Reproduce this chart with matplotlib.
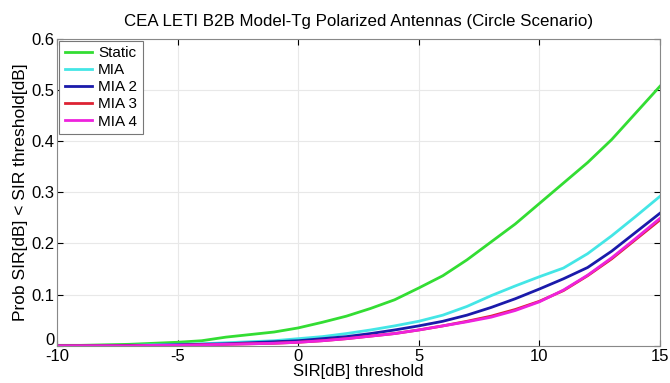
import numpy as np
import matplotlib
matplotlib.use("Agg")
from matplotlib import pyplot as plt
from matplotlib import transforms

# SIR threshold grid (dB)
sir = np.arange(-10, 16, 1)

static = [0.001, 0.001, 0.002, 0.003, 0.005, 0.007, 0.010, 0.017, 0.022, 0.027,
          0.035, 0.046, 0.058, 0.073, 0.090, 0.113, 0.137, 0.168, 0.203, 0.238,
          0.278, 0.318, 0.358, 0.403, 0.455, 0.507]
mia = [0.000, 0.000, 0.001, 0.001, 0.002, 0.003, 0.004, 0.006, 0.008, 0.010,
       0.014, 0.018, 0.024, 0.031, 0.039, 0.048, 0.060, 0.077, 0.098, 0.117,
       0.135, 0.152, 0.180, 0.215, 0.253, 0.292]
mia2 = [0.000, 0.000, 0.000, 0.001, 0.001, 0.002, 0.003, 0.004, 0.006, 0.008,
        0.010, 0.014, 0.018, 0.024, 0.031, 0.039, 0.048, 0.060, 0.075, 0.092,
        0.111, 0.131, 0.153, 0.185, 0.222, 0.259]
mia3 = [0.000, 0.000, 0.000, 0.000, 0.001, 0.001, 0.002, 0.003, 0.004, 0.005,
        0.007, 0.010, 0.014, 0.019, 0.024, 0.031, 0.039, 0.048, 0.058, 0.071,
        0.087, 0.108, 0.137, 0.170, 0.208, 0.246]
mia4 = [0.000, 0.000, 0.000, 0.000, 0.001, 0.001, 0.002, 0.003, 0.004, 0.005,
        0.007, 0.010, 0.014, 0.019, 0.024, 0.031, 0.039, 0.047, 0.056, 0.069,
        0.086, 0.109, 0.138, 0.172, 0.210, 0.249]

series = [("Static", static, "#33dd33"),
          ("MIA", mia, "#44e6e6"),
          ("MIA 2", mia2, "#1a1aaa"),
          ("MIA 3", mia3, "#dd2233"),
          ("MIA 4", mia4, "#ee22dd")]

plt.rcParams['font.family'] = ['Liberation Sans', 'DejaVu Sans']
plt.rcParams['axes.unicode_minus'] = False

fig = plt.figure(figsize=(6.7, 3.83), dpi=100)
ax = fig.add_axes([0.085, 0.097, 0.9, 0.802])

for name, vals, col in series:
    ax.plot(sir, vals, color=col, lw=2, label=name)

ax.set_xlim(-10, 15)
ax.set_ylim(0, 0.6)
ax.set_xticks([-10, -5, 0, 5, 10, 15])
ax.set_yticks([0, 0.1, 0.2, 0.3, 0.4, 0.5, 0.6])
ax.set_yticklabels(["0", "0.1", "0.2", "0.3", "0.4", "0.5", "0.6"])
ax.tick_params(direction="in", top=True, right=True, labelsize=12, length=4, pad=2)
ax.grid(True, color="#e8e8e8", lw=0.8)
for s in ax.spines.values():
    s.set_color("#888888")

# nudge the "0" y label up a bit so it sits above "-10" like in matlab
lbl0 = ax.get_yticklabels()[0]
lbl0.set_transform(lbl0.get_transform() + transforms.ScaledTranslation(0, 5 / 72, fig.dpi_scale_trans))

ax.set_title("CEA LETI B2B Model-Tg Polarized Antennas (Circle Scenario)", fontsize=12.2, pad=9)
ax.set_xlabel("SIR[dB] threshold", fontsize=12, labelpad=0)
ax.set_ylabel("Prob SIR[dB] < SIR threshold[dB]", fontsize=12.5, labelpad=2)

leg = ax.legend(loc="upper left", fontsize=11, fancybox=False, framealpha=1,
                edgecolor="#777777", borderaxespad=0.15, handlelength=1.8,
                labelspacing=0.2, borderpad=0.35, handletextpad=0.4)
leg.get_frame().set_linewidth(0.8)

fig.savefig("out.png", dpi=100)
